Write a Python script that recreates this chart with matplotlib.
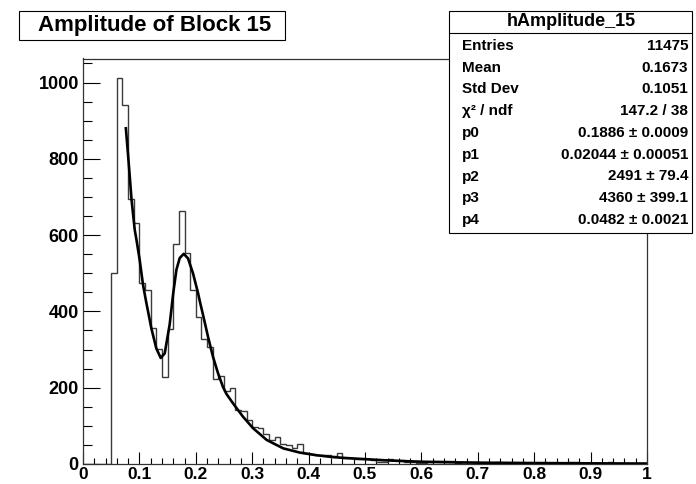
import numpy as np
import matplotlib
matplotlib.use("Agg")
import matplotlib.pyplot as plt
from matplotlib.patches import Rectangle
from matplotlib.lines import Line2D
from matplotlib.ticker import MultipleLocator

plt.rcParams['font.family'] = ['Liberation Sans', 'DejaVu Sans']
plt.rcParams['font.weight'] = 'bold'

W, H = 696, 484

# histogram: 100 bins of width 0.01 from 0 to 1
bin_lo = 0.0
bin_width = 0.01
counts = [
    0, 0, 0, 0, 0, 502, 1011, 940, 694, 631,
    474, 456, 357, 301, 228, 353, 577, 662, 554, 456,
    386, 327, 307, 223, 230, 191, 199, 141, 140, 116,
    98, 95, 78, 62, 70, 52, 49, 42, 52, 28,
    27, 24, 23, 23, 22, 28, 17, 17, 12, 12,
    12, 11, 6, 6, 12, 10, 10, 6, 4, 2,
    2, 6, 8, 9, 9, 9, 2, 6, 5, 4,
    3, 2, 2, 4, 3, 2, 2, 0, 3, 3,
    2, 3, 2, 2, 0, 1, 4, 4, 2, 1,
    1, 1, 1, 4, 1, 1, 1, 0, 0, 0,
]

# fit curve
fit_x = [0.0760, 0.0810, 0.0860, 0.0917, 0.0950, 0.1005, 0.1064, 0.1120,
         0.1213, 0.1300, 0.1378, 0.1449, 0.1537, 0.1600, 0.1656, 0.1715,
         0.1786, 0.1862, 0.1950, 0.2040, 0.2069, 0.2128, 0.2216, 0.2305,
         0.2394, 0.2482, 0.2542, 0.2660, 0.2837, 0.3014, 0.3257, 0.3550,
         0.3842, 0.4140, 0.4435, 0.4730, 0.5030, 0.5320, 0.5615, 0.6000,
         0.6500, 0.7000, 0.8000, 0.9000, 1.0000]
fit_y = [880, 790, 694, 614, 586, 535, 470, 425,
         355, 303, 278, 290, 366, 448, 509, 540,
         551, 539, 500, 448, 428, 391, 334, 281,
         238, 202, 184, 159, 124, 94, 63, 41,
         30, 23, 18, 15, 12.5, 10, 8, 6,
         4.5, 3.5, 2.5, 1.7, 1.2]

title = "Amplitude of Block 15"
stat_title = "hAmplitude_15"
stat_names = ["Entries", "Mean", "Std Dev", "\u03c7\u00b2 / ndf",
              "p0", "p1", "p2", "p3", "p4"]
stat_values = ["11475", "0.1673", "0.1051", "147.2 / 38",
               "0.1886 \u00b1 0.0009", "0.02044 \u00b1 0.00051",
               "2491 \u00b1 79.4", "4360 \u00b1 399.1", "0.0482 \u00b1 0.0021"]

x_ticks = [0, 0.1, 0.2, 0.3, 0.4, 0.5, 0.6, 0.7, 0.8, 0.9, 1.0]
x_labels = ["0", "0.1", "0.2", "0.3", "0.4", "0.5", "0.6", "0.7", "0.8", "0.9", "1"]
y_ticks = [0, 200, 400, 600, 800, 1000]


def fx(px):
    return px / W


def fy(py):
    return 1 - py / H


fig = plt.figure(figsize=(W / 100, H / 100), dpi=100)
ax = fig.add_axes([fx(83), fy(464), (647 - 83) / W, (464 - 58.5) / H])

edges = bin_lo + bin_width * np.arange(len(counts) + 1)
ax.stairs(counts, edges, color='#3a3a3a', lw=1.0, zorder=2)
ax.plot(fit_x, fit_y, color='black', lw=1.9, zorder=3)

ax.set_xlim(0, 1)
ax.set_ylim(0, 1063)
ax.set_xticks(x_ticks)
ax.set_xticklabels(x_labels, fontsize=12.5, fontweight='bold')
ax.set_yticks(y_ticks)
ax.set_yticklabels([str(v) for v in y_ticks], fontsize=13, fontweight='bold')
ax.xaxis.set_minor_locator(MultipleLocator(0.02))
ax.yaxis.set_minor_locator(MultipleLocator(50))
ax.tick_params(axis='x', which='major', direction='in', length=8.4, width=0.8, pad=2.5)
ax.tick_params(axis='x', which='minor', direction='in', length=4.1, width=0.8)
ax.tick_params(axis='y', which='major', direction='in', length=12.2, width=0.8, pad=3)
ax.tick_params(axis='y', which='minor', direction='in', length=6.3, width=0.8)
for s in ax.spines.values():
    s.set_color('#333333')
    s.set_linewidth(0.9)

# title box
fig.add_artist(Rectangle((fx(19), fy(40)), (285 - 19) / W, (40 - 11) / H,
                         transform=fig.transFigure, fc='white', ec='black',
                         lw=0.8, zorder=5))
fig.text(fx(155), fy(25.5), title, ha='center', va='center', fontsize=16, zorder=6)

# stats box
fig.add_artist(Rectangle((fx(449), fy(233)), (692 - 449) / W, (233 - 11) / H,
                         transform=fig.transFigure, fc='white', ec='black',
                         lw=0.8, zorder=5))
fig.add_artist(Line2D([fx(449), fx(692)], [fy(33), fy(33)],
                      transform=fig.transFigure, color='black', lw=0.8, zorder=6))
fig.text(fx(571), fy(22), stat_title, ha='center', va='center', fontsize=13, zorder=7)
for i, (name, val) in enumerate(zip(stat_names, stat_values)):
    y = fy(45.7 + 21.8 * i)
    fig.text(fx(462), y, name, ha='left', va='center', fontsize=11, zorder=7)
    fig.text(fx(688), y, val, ha='right', va='center', fontsize=11, zorder=7)

fig.savefig("out.png", dpi=100)
